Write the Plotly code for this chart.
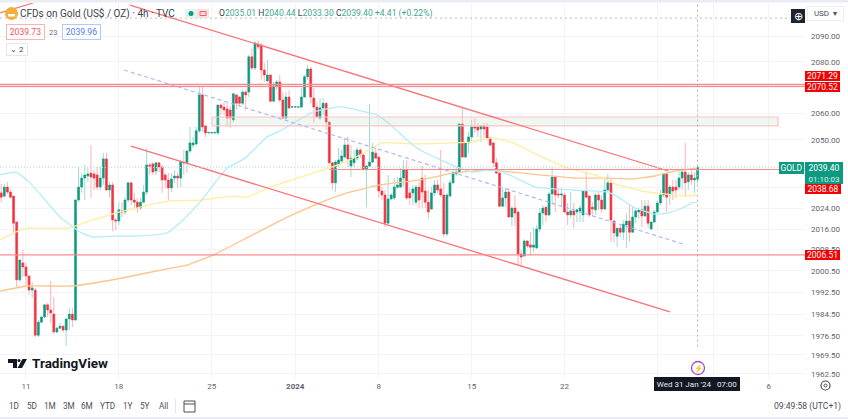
import numpy as np
import plotly.graph_objects as go

# ---------- candle data (USD per ounce, one row of each list per 4h bar) ----------
opens = [2029.8,2028.6,2032.0,2030.1,2028.6,2018.8,1997.2,2003.5,2002.0,1998.6,1993.4,1993.4,1976.7,1981.5,1983.4,1987.9,1986.0,1984.5,1977.9,1979.3,1980.0,1978.6,1982.7,1984.5,1982.3,2027.1,2032.0,2035.4,2036.2,2037.3,
2037.0,2036.6,2032.0,2035.4,2042.7,2030.9,2032.8,2019.6,2019.2,2023.0,2022.6,2027.1,2033.6,2027.1,2026.3,2024.1,2026.3,2030.1,2040.4,2040.8,2038.1,2041.2,2039.6,2036.6,2034.7,2031.7,2035.4,2036.2,2035.4,2041.5,
2041.2,2045.7,2048.0,2048.4,2053.4,2067.2,2055.3,2052.6,2052.6,2052.6,2052.6,2063.3,2062.5,2061.8,2061.4,2057.6,2067.2,2066.4,2064.0,2068.3,2068.3,2081.9,2077.6,2086.9,2086.5,2076.8,2072.6,2074.9,2064.8,2070.7,
2072.2,2065.2,2058.3,2066.4,2062.5,2062.5,2062.5,2062.5,2066.4,2074.2,2077.2,2066.0,2062.5,2058.3,2062.2,2064.0,2056.8,2041.2,2033.6,2040.4,2041.9,2043.4,2048.0,2040.0,2041.2,2043.0,2046.1,2044.2,2038.9,2040.0,
2041.5,2044.9,2043.4,2030.5,2029.0,2018.4,2027.5,2027.9,2031.9,2032.0,2035.4,2038.5,2029.8,2029.8,2026.3,2032.0,2035.4,2030.5,2026.3,2023.7,2029.8,2032.8,2031.3,2029.0,2014.3,2028.6,2033.6,2037.0,2037.7,2056.0,
2043.4,2048.8,2051.1,2054.9,2054.9,2054.1,2055.3,2054.9,2050.7,2048.8,2041.2,2037.3,2024.8,2027.9,2030.1,2020.7,2024.1,2022.6,2006.8,2006.1,2011.7,2010.2,2009.4,2009.1,2016.2,2022.2,2024.4,2021.5,2029.4,2035.8,
2029.4,2029.0,2029.0,2022.6,2021.5,2023.0,2022.6,2023.0,2021.5,2030.5,2028.6,2024.4,2023.4,2029.0,2027.1,2023.7,2030.9,2033.6,2019.2,2013.5,2016.5,2015.0,2017.7,2019.2,2015.0,2020.7,2022.6,2023.4,2021.1,2024.8,
2016.2,2018.8,2022.6,2026.0,2029.0,2037.0,2029.0,2032.0,2032.0,2032.0,2035.4,2037.7,2034.0,2036.6,2034.7,2035.01]
highs = [2033.2,2033.2,2033.9,2030.9,2028.6,2018.8,2004.6,2008.3,2003.5,1999.0,1996.4,1994.2,1982.3,1983.8,1987.9,1988.6,1996.8,1990.8,1979.7,1981.2,1980.4,1982.7,1986.8,1986.8,2027.5,2039.6,2037.3,2040.4,2039.2,2048.0,
2038.5,2039.6,2039.6,2044.9,2044.9,2033.9,2033.9,2020.3,2026.3,2026.3,2028.2,2033.9,2033.9,2029.8,2027.9,2027.9,2032.8,2046.9,2041.2,2041.5,2041.5,2041.5,2040.4,2037.3,2037.3,2037.3,2038.5,2037.7,2042.3,2046.1,
2046.1,2054.9,2051.1,2054.9,2070.3,2070.3,2055.6,2052.9,2052.9,2052.9,2063.3,2064.0,2064.4,2064.0,2062.9,2068.0,2067.6,2066.8,2069.1,2069.1,2082.6,2085.3,2088.0,2088.4,2087.3,2079.6,2080.7,2074.9,2072.2,2073.0,
2074.9,2068.3,2068.3,2069.1,2062.7,2062.7,2062.7,2069.9,2074.9,2078.8,2078.0,2069.9,2064.4,2066.0,2066.0,2064.0,2056.8,2041.2,2042.3,2046.9,2046.1,2050.7,2051.1,2048.0,2046.1,2047.3,2046.9,2044.9,2040.4,2063.7,
2048.8,2046.9,2043.4,2032.0,2030.9,2036.6,2029.8,2035.4,2035.8,2039.2,2042.3,2042.3,2031.7,2032.8,2032.8,2033.9,2040.0,2036.6,2030.9,2032.0,2034.7,2034.7,2046.1,2033.6,2029.8,2034.7,2038.5,2039.6,2056.4,2062.5,
2049.1,2053.0,2057.6,2058.3,2056.4,2055.6,2056.4,2056.4,2051.1,2048.8,2043.0,2038.5,2031.7,2031.7,2031.7,2024.4,2029.0,2022.6,2008.3,2012.4,2012.1,2015.0,2016.9,2017.7,2024.1,2025.2,2024.8,2030.1,2039.6,2036.2,
2031.7,2031.7,2029.8,2026.0,2030.1,2026.0,2023.4,2025.2,2030.5,2038.1,2029.0,2026.3,2029.8,2030.1,2029.0,2035.4,2037.0,2035.4,2019.6,2016.5,2017.7,2019.6,2022.2,2025.2,2024.4,2024.1,2024.4,2027.1,2027.1,2027.1,
2018.8,2023.4,2027.1,2030.9,2037.3,2037.3,2032.8,2034.7,2034.7,2038.5,2039.2,2048.8,2037.7,2038.5,2037.7,2040.44]
lows = [2026.3,2027.9,2029.4,2027.9,2014.7,1994.5,1996.4,1998.2,1995.3,1991.6,1990.5,1976.0,1976.0,1981.2,1983.0,1983.4,1981.2,1977.1,1977.5,1978.9,1977.9,1972.8,1978.6,1979.7,1981.9,2026.3,2029.8,2027.1,2033.9,2027.9,
2030.9,2030.9,2030.9,2032.8,2030.9,2028.2,2015.4,2015.8,2017.7,2020.7,2021.5,2026.3,2025.2,2023.4,2022.2,2023.4,2026.0,2029.0,2036.6,2036.6,2036.6,2037.7,2029.8,2031.7,2027.1,2030.1,2033.6,2031.7,2032.0,2036.6,
2037.3,2044.9,2046.9,2047.6,2052.6,2053.0,2051.1,2052.3,2052.4,2052.4,2051.8,2059.5,2059.5,2054.9,2054.5,2056.8,2061.4,2062.9,2063.3,2061.4,2066.4,2076.8,2076.8,2084.6,2073.0,2072.2,2072.2,2064.4,2064.4,2069.1,
2064.4,2057.9,2057.6,2061.8,2062.3,2062.3,2062.3,2062.2,2066.0,2073.0,2064.0,2056.4,2058.3,2057.6,2059.5,2053.7,2040.8,2030.9,2030.1,2039.6,2041.2,2043.0,2039.6,2035.8,2039.6,2042.3,2043.0,2038.1,2024.4,2039.6,
2041.2,2042.7,2027.9,2027.1,2016.9,2018.4,2027.1,2027.1,2031.3,2031.7,2032.0,2027.1,2025.2,2025.2,2025.2,2024.1,2024.1,2024.1,2020.3,2023.4,2028.6,2029.8,2028.2,2013.2,2013.5,2028.2,2033.2,2036.2,2037.3,2043.0,
2043.0,2044.9,2048.8,2052.6,2051.1,2049.1,2050.7,2050.3,2047.3,2039.6,2037.0,2024.4,2024.4,2024.4,2020.7,2017.3,2017.3,2002.7,2002.0,2005.7,2009.1,2006.4,2007.6,2008.7,2015.0,2017.7,2018.8,2021.1,2025.2,2022.6,
2027.9,2024.4,2022.2,2017.7,2020.3,2016.5,2018.8,2018.8,2018.8,2027.9,2020.7,2021.5,2021.5,2023.4,2022.2,2023.4,2030.1,2011.3,2011.3,2009.4,2013.2,2012.1,2009.1,2011.3,2014.7,2018.4,2019.9,2016.9,2020.7,2016.5,
2015.8,2018.4,2022.2,2025.2,2028.2,2022.6,2025.2,2027.1,2027.9,2030.9,2030.9,2028.6,2030.9,2032.8,2029.8,2033.30]
closes = [2028.2,2032.0,2030.1,2028.2,2018.4,1997.2,2004.6,2002.0,1998.6,1993.4,1994.2,1976.7,1981.5,1983.4,1987.9,1986.0,1984.9,1977.9,1979.3,1980.0,1978.6,1982.7,1984.5,1982.3,2027.1,2032.0,2035.4,2036.6,2037.0,2035.8,
2035.4,2032.0,2035.4,2042.7,2030.9,2032.8,2019.6,2019.2,2023.4,2022.6,2027.1,2033.6,2027.1,2026.3,2024.1,2026.3,2030.1,2040.4,2040.0,2037.7,2041.2,2039.6,2034.7,2034.7,2031.7,2035.1,2036.2,2035.4,2041.5,2041.2,
2045.7,2048.8,2048.8,2053.4,2067.2,2054.9,2052.6,2052.8,2052.7,2052.8,2063.3,2062.2,2061.4,2058.3,2058.3,2067.6,2064.0,2064.0,2068.3,2067.2,2081.9,2077.6,2087.3,2085.8,2076.8,2074.9,2074.9,2064.8,2070.7,2072.2,
2065.2,2058.3,2066.4,2062.2,2062.6,2062.6,2062.6,2066.4,2074.2,2077.2,2066.4,2062.5,2058.7,2062.2,2064.0,2056.8,2041.2,2033.6,2041.5,2042.3,2043.8,2048.0,2042.7,2043.0,2043.0,2046.1,2044.2,2038.9,2040.0,2041.5,
2045.3,2043.0,2030.5,2029.0,2018.4,2027.5,2029.0,2032.0,2032.8,2035.4,2038.5,2027.9,2027.9,2031.3,2032.0,2027.1,2030.1,2026.3,2022.6,2029.8,2032.8,2030.9,2029.0,2014.3,2029.0,2033.6,2037.3,2037.7,2056.0,2043.4,
2048.8,2051.1,2054.9,2054.5,2053.7,2055.3,2054.1,2050.7,2048.0,2041.2,2037.3,2024.8,2027.9,2030.1,2020.7,2024.1,2022.2,2006.8,2005.7,2011.7,2009.8,2009.4,2010.2,2016.2,2022.2,2024.1,2021.5,2029.4,2035.8,2029.0,
2029.0,2029.4,2022.6,2021.5,2023.0,2021.5,2023.4,2024.1,2030.5,2028.2,2021.5,2023.7,2029.0,2027.1,2023.7,2030.9,2033.6,2019.6,2014.7,2016.5,2015.0,2018.0,2019.2,2015.0,2020.7,2023.0,2023.4,2021.1,2024.8,2018.4,
2018.8,2022.6,2026.0,2029.0,2037.0,2028.2,2032.0,2030.5,2030.9,2035.4,2037.7,2033.6,2036.6,2034.7,2035.4,2039.40]
bars = np.arange(len(opens))

# ---------- moving averages ----------
ma_blue_x = [-0.4,3.8,5.4,9.3,14.2,19,22.9,25.5,29.7,36.8,42.6,53.6,58.7,64.2,73,78.8,85.9,90.1,100.7,109.5,115,121.4,126.6,131.1,135.3,140.8,147.3,152.4,157.9,162.1,167.6,172.5,184.4,196,199.3,204.8,211.2,215.5,220,223.2,224.8]
ma_blue_y = [2036.6,2037.7,2037.3,2033.6,2027.1,2020.7,2017.3,2015.0,2013.2,2013.5,2013.5,2014.7,2019.6,2026.3,2039.2,2043.0,2051.1,2053.4,2060.6,2062.7,2061.4,2059.5,2054.9,2049.9,2046.1,2043.0,2039.6,2037.7,2038.5,2037.7,2034.7,2032.0,2030.9,2030.1,2028.2,2024.1,2021.8,2022.2,2024.1,2026.0,2026.3]
ma_yellow_x = [-0.4,6.1,9.3,21.3,23.8,29.7,36.8,44.8,53.6,64.2,74.9,79.4,86.2,95.6,104,110.4,115.9,123,133.1,146,151.5,158.9,165.4,171.5,182.2,191.9,199.3,207,214.5,220.9,224.8]
ma_yellow_y = [2012.1,2015.8,2016.5,2016.5,2017.3,2019.6,2022.2,2024.4,2026.7,2027.1,2028.6,2028.2,2031.7,2035.4,2038.5,2041.2,2044.2,2048.8,2048.4,2048.8,2049.1,2050.7,2048.8,2045.3,2039.6,2036.6,2032.8,2030.5,2029.4,2028.6,2029.0]
ma_orange_x = [-0.4,8.3,22.9,37.4,53.6,60,68.4,80.4,93.3,102,111.7,122.4,135.3,146,156.9,174.1,185.4,196,203.8,211.2,217.7,224.8]
ma_orange_y = [1993.0,1994.9,1994.9,1997.5,2001.3,2002.7,2006.4,2013.5,2021.1,2025.6,2029.8,2032.8,2034.7,2037.3,2038.5,2036.6,2035.4,2035.4,2035.1,2036.2,2038.1,2039.2]

# ---------- drawings ----------
channel_upper_x, channel_upper_y = [41.6, 215.5], [2102.1, 2038.1]
channel_lower_x, channel_lower_y = [41.9, 216.1], [2047.6, 1985.3]
channel_mid_x, channel_mid_y = [39.7, 221.3], [2076.8, 2010.2]
stub_x, stub_y = [-0.4, 10.3], [2099.0, 2102.9]
zone_x, zone_y = [68.1, 251.0], [2055.3, 2058.7]
levels = [2071.29, 2070.52, 2006.51]
level_gold = 2038.68
last_price = 2039.40
cross_x = 225
cross_y = 2097.0

# ---------- axes ----------
price_ticks = [2090, 2080, 2070, 2060, 2050, 2040, 2032, 2024, 2016, 2008.5, 2000.5, 1992.5, 1984.5, 1976.5, 1969.5, 1962.5]
hidden_price_ticks = [2070, 2040, 2032]   # these sit behind the coloured price boxes in the original
date_ticks = [8, 38, 68, 95, 122, 152, 182, 248]
date_labels = ['11', '18', '25', '<b>2024</b>', '8', '15', '22', '6']
date_grid_only = [212, 230]               # labels covered by the time tooltip
range_buttons = ['1D', '5D', '1M', '3M', '6M', 'YTD', '1Y', '5Y', 'All']
button_px = [14, 32, 50, 69, 87, 108, 128, 145, 163]

W, H = 848, 419
PL, PR, PT, PB = 0, 805, 3, 378
XMIN, XMAX = -0.39, 259.7
YMIN, YMAX = 1961.0, 2102.9
GREEN, RED = '#0d9a80', '#f5323f'
GREEN_W, RED_W = '#a3dacf', '#f9b4ba'
LINE_RED = '#fa7377'
FONT = 'Roboto, Open Sans, sans-serif'

def xp(px):
    return (px - PL) / (PR - PL)
def yp(py):
    return 1 - (py - PT) / (PB - PT)

fig = go.Figure()
fig.add_trace(go.Candlestick(x=bars, open=opens, high=highs, low=lows, close=closes,
    increasing=dict(line=dict(color=GREEN_W, width=1), fillcolor=GREEN_W),
    decreasing=dict(line=dict(color=RED_W, width=1), fillcolor=RED_W),
    whiskerwidth=0, hoverinfo='skip', showlegend=False))

def line(x, y, color, width=1.4, dash='solid', spline=False):
    fig.add_trace(go.Scatter(x=x, y=y, mode='lines', hoverinfo='skip', showlegend=False,
        line=dict(color=color, width=width, dash=dash, shape='spline' if spline else 'linear', smoothing=0.4)))

line(ma_orange_x, ma_orange_y, '#ffc58c', 1.3, spline=True)
line(ma_yellow_x, ma_yellow_y, '#ffee9f', 1.3, spline=True)
line(ma_blue_x, ma_blue_y, '#b5ecfa', 1.3, spline=True)

# pale wicks first, saturated bodies on top
body_hi = np.maximum(opens, closes)
body_lo = np.minimum(opens, closes)
fig.add_trace(go.Candlestick(x=bars, open=opens, high=body_hi, low=body_lo, close=closes,
    increasing=dict(line=dict(color=GREEN, width=0.4), fillcolor=GREEN),
    decreasing=dict(line=dict(color=RED, width=0.4), fillcolor=RED),
    whiskerwidth=0, hoverinfo='skip', showlegend=False))

# zone rectangle
fig.add_trace(go.Scatter(x=[zone_x[0], zone_x[1], zone_x[1], zone_x[0], zone_x[0]],
    y=[zone_y[0], zone_y[0], zone_y[1], zone_y[1], zone_y[0]], mode='lines', fill='toself',
    fillcolor='rgba(180,220,190,0.22)', line=dict(color='#fbc4c8', width=1.2), hoverinfo='skip', showlegend=False))

line(channel_upper_x, channel_upper_y, LINE_RED, 1.3)
line(channel_lower_x, channel_lower_y, LINE_RED, 1.3)
line(stub_x, stub_y, LINE_RED, 1.2)
line(channel_mid_x, channel_mid_y, '#aab9f7', 1.2, dash='4px,3px')
for lv in levels:
    line([XMIN, XMAX], [lv, lv], '#fb8a8e', 1.2)
line([106, XMAX], [level_gold, level_gold], '#fb8a8e', 1.2)
line([XMIN, XMAX], [last_price, last_price], '#bfe3db', 1, dash='1px,2px')
line([cross_x, cross_x], [1972.5, YMAX], '#a8a8ac', 0.9, dash='2px,3px')
line([XMIN, 255], [cross_y, cross_y], '#b5b5b8', 0.9, dash='2px,3px')

ann = []
def txt(px, py, s, size=9, color='#4a4e59', anchor='left', bg=None, border=None, w=None, h=None):
    d = dict(xref='paper', yref='paper', x=xp(px), y=yp(py), text=s, showarrow=False, xanchor=anchor, yanchor='middle',
             font=dict(family=FONT, size=size, color=color), borderpad=0, borderwidth=0)
    if bg: d['bgcolor'] = bg
    if border:
        d['bordercolor'] = border
        d['borderwidth'] = 1
    if w: d['width'] = w
    if h: d['height'] = h
    ann.append(d)

# header
txt(20, 13.5, 'CFDs on Gold (US$ / OZ) · 4h · TVC', 10, '#3b3f4a')
hd = '<span style="color:#3b3f4a">O</span>2035.01 <span style="color:#3b3f4a">H</span>2040.44 <span style="color:#3b3f4a">L</span>2033.30 <span style="color:#3b3f4a">C</span>2039.40 +4.41 (+0.22%)'
txt(219, 13.5, hd, 8.6, '#3fa68f')
txt(6, 32, '2039.73', 8.6, '#f0565f', bg='#ffffff', border='#f9b4ba', w=37, h=14)
txt(53, 32, '23', 7.5, '#6b6f7a', anchor='center')
txt(62, 32, '2039.96', 8.6, '#4d7df5', bg='#ffffff', border='#b6c8fb', w=37, h=14)
txt(6, 49, '⌄ 2', 8, '#4a4e59', bg='#ffffff', border='#e5e6ea', w=20, h=11)

# right axis labels
txt(779, 168, 'GOLD', 8.5, 'white', bg='#0d9a80', w=25, h=12)
txt(805, 168, '2039.40', 8.5, 'white', bg='#0d9a80', w=38, h=12)
txt(805, 179, '01:10:03', 8, '#d7f0ea', bg='#0d9a80', w=38, h=10)
txt(805, 189, '2038.68', 8.5, 'white', bg='#f50000', w=36, h=10)
txt(805, 76.5, '2071.29', 8.5, 'white', bg='#f50000', w=35, h=10)
txt(805, 87, '2070.52', 8.5, 'white', bg='#f50000', w=35, h=10)
txt(805, 255, '2006.51', 8.5, 'white', bg='#f50000', w=35, h=10)
txt(825.5, 14, 'USD  ▾', 8, '#4a4e59', anchor='center', bg='#ffffff', border='#eceef2', w=35, h=13)
txt(798, 16, '⊕', 11, '#ffffff', anchor='center', bg='#1e222d', w=14, h=14)

# bottom
txt(697, 384, "Wed 31 Jan '24   07:00", 8, '#e8e9ed', anchor='center', bg='#131722', w=86, h=14)
txt(698, 368, '⚡', 7.5, '#9c27b0', anchor='center')
for b, px in zip(range_buttons, button_px):
    txt(px, 406, b, 8.2, '#4a4e59', anchor='center')
txt(841, 406, '09:49:58 (UTC+1)', 8.6, '#4a4e59', anchor='right')
txt(32, 363, '<b>TradingView</b>', 13.5, '#131722')

shapes = [
    dict(type='rect', xref='paper', yref='paper', x0=0, x1=xp(W), y0=yp(0), y1=yp(2.5), fillcolor='#e9ecf3', line_width=0, layer='above'),
    dict(type='rect', xref='paper', yref='paper', x0=0, x1=xp(W), y0=yp(417), y1=yp(H), fillcolor='#e9ecf3', line_width=0, layer='above'),
    dict(type='line', xref='paper', yref='paper', x0=xp(175.5), x1=xp(175.5), y0=yp(399), y1=yp(413), line=dict(color='#e3e5ea', width=1)),
    # gold coin
    dict(type='circle', xref='paper', yref='paper', x0=xp(5), x1=xp(18), y0=yp(7), y1=yp(20), fillcolor='#f0b03a', line_width=0, layer='above'),
    dict(type='rect', xref='paper', yref='paper', x0=xp(8), x1=xp(15), y0=yp(14), y1=yp(16.5), fillcolor='#ffffff', line_width=0, layer='above'),
    # indicator pills
    dict(type='rect', xref='paper', yref='paper', x0=xp(185), x1=xp(197), y0=yp(9), y1=yp(18), fillcolor='#e4f3ef', line_width=0, layer='above'),
    dict(type='rect', xref='paper', yref='paper', x0=xp(197), x1=xp(209), y0=yp(9), y1=yp(18), fillcolor='#fbe0e3', line_width=0, layer='above'),
    dict(type='circle', xref='paper', yref='paper', x0=xp(188.5), x1=xp(193.5), y0=yp(11), y1=yp(16), fillcolor='#0d9a80', line_width=0, layer='above'),
    dict(type='rect', xref='paper', yref='paper', x0=xp(200), x1=xp(206), y0=yp(11.5), y1=yp(15.5), fillcolor='rgba(0,0,0,0)', line=dict(color='#f0606a', width=1), layer='above'),
    # lightning circle
    dict(type='circle', xref='paper', yref='paper', x0=xp(691.5), x1=xp(704.5), y0=yp(361.5), y1=yp(374.5), fillcolor='white', line=dict(color='#a64cc4', width=1.3), layer='above'),
    # TV logo
    dict(type='path', xref='paper', yref='paper', layer='above', line_width=0, fillcolor='#131722',
         path=f'M {xp(8)} {yp(359)} L {xp(17)} {yp(359)} L {xp(17)} {yp(368)} L {xp(13)} {yp(368)} L {xp(13)} {yp(363)} L {xp(8)} {yp(363)} Z'),
    dict(type='circle', xref='paper', yref='paper', x0=xp(17.5), x1=xp(20.5), y0=yp(359), y1=yp(362), fillcolor='#131722', line_width=0, layer='above'),
    dict(type='path', xref='paper', yref='paper', layer='above', line_width=0, fillcolor='#131722',
         path=f'M {xp(22.5)} {yp(359)} L {xp(27)} {yp(359)} L {xp(22)} {yp(368)} L {xp(17.5)} {yp(368)} Z'),
    # settings wheel and calendar
    dict(type='circle', xref='paper', yref='paper', x0=xp(821), x1=xp(830), y0=yp(381), y1=yp(390), fillcolor='white', line=dict(color='#4a4e59', width=1.2), layer='above'),
    dict(type='circle', xref='paper', yref='paper', x0=xp(824), x1=xp(827), y0=yp(384), y1=yp(387), fillcolor='white', line=dict(color='#4a4e59', width=1), layer='above'),
    dict(type='rect', xref='paper', yref='paper', x0=xp(184), x1=xp(195), y0=yp(401), y1=yp(412), fillcolor='white', line=dict(color='#4a4e59', width=1), layer='above'),
    dict(type='line', xref='paper', yref='paper', x0=xp(184), x1=xp(195), y0=yp(404), y1=yp(404), line=dict(color='#4a4e59', width=1), layer='above'),
]

x_tickvals = date_ticks + date_grid_only
x_ticktext = date_labels + [''] * len(date_grid_only)
y_ticktext = ['' if v in hidden_price_ticks else f'{v:.2f}' for v in price_ticks]

fig.update_layout(
    width=W, height=H, autosize=False, paper_bgcolor='white', plot_bgcolor='white',
    margin=dict(l=PL, r=W - PR, t=PT, b=H - PB, pad=0), showlegend=False, hovermode=False,
    font=dict(family=FONT), annotations=ann, shapes=shapes, boxgap=0.15,
    xaxis=dict(range=[XMIN, XMAX], rangeslider=dict(visible=False), tickmode='array', tickvals=x_tickvals, ticktext=x_ticktext,
               showgrid=True, gridcolor='#f4f4f6', gridwidth=1, zeroline=False, showline=False, ticks='',
               tickfont=dict(size=8, color='#5f636e', family=FONT), ticklabelstandoff=2),
    yaxis=dict(type='log', range=[np.log10(YMIN), np.log10(YMAX)], side='right', tickmode='array', tickvals=price_ticks,
               ticktext=y_ticktext, showgrid=True, gridcolor='#f4f4f6', gridwidth=1, zeroline=False,
               showline=False, ticks='', tickfont=dict(size=8, color='#5f636e', family=FONT), ticklabelstandoff=5),
)

fig.write_html('out.html', config=dict(displayModeBar=False, staticPlot=True),
               post_script="document.body.style.margin='0';document.body.style.overflow='hidden';")
